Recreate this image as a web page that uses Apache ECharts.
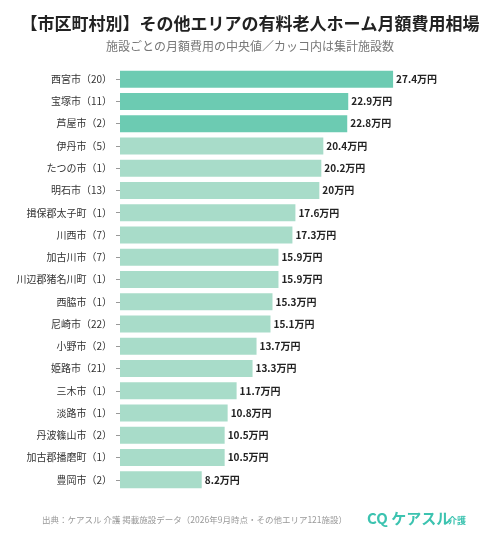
<!DOCTYPE html>
<html><head><meta charset="utf-8">
<script src="https://cdn.jsdelivr.net/npm/echarts@6/dist/echarts.min.js"></script>
<style>html,body{margin:0;background:#fff}#chart{width:500px;height:541px}</style>
</head><body><div id="chart"></div>
<script>
const cities = ['西宮市（20）','宝塚市（11）','芦屋市（2）','伊丹市（5）','たつの市（1）','明石市（13）','揖保郡太子町（1）','川西市（7）','加古川市（7）','川辺郡猪名川町（1）','西脇市（1）','尼崎市（22）','小野市（2）','姫路市（21）','三木市（1）','淡路市（1）','丹波篠山市（2）','加古郡播磨町（1）','豊岡市（2）'];
const values = [27.4,22.9,22.8,20.4,20.2,20,17.6,17.3,15.9,15.9,15.3,15.1,13.7,13.3,11.7,10.8,10.5,10.5,8.2];
const font = '"Noto Sans CJK JP", sans-serif';

const chart = echarts.init(document.getElementById('chart'));
chart.setOption({
  backgroundColor: '#fff',
  animation: false,
  title: [
    { text: '【市区町村別】その他エリアの有料老人ホーム月額費用相場', left: 'center', top: 10,
      textStyle: { fontFamily: font, fontSize: 17, fontWeight: 'bold', color: '#222' } },
    { text: '施設ごとの月額費用の中央値／カッコ内は集計施設数', left: 'center', top: 35,
      textStyle: { fontFamily: font, fontSize: 12, fontWeight: 'normal', color: '#777' } },
    { text: '出典：ケアスル 介護 掲載施設データ（2026年9月時点・その他エリア121施設）', left: 37, top: 511,
      textStyle: { fontFamily: font, fontSize: 8.5, fontWeight: 'normal', color: '#999' } },
    { text: 'CQ ケアスル', left: 362, top: 506,
      textStyle: { fontFamily: font, fontSize: 15, fontWeight: 'bold', color: '#3cc3b0' } },
    { text: '介護', left: 443, top: 511,
      textStyle: { fontFamily: font, fontSize: 9, fontWeight: 'bold', color: '#3cc3b0' } }
  ],
  grid: { left: 120, right: 81, top: 68, bottom: 50 },
  xAxis: { type: 'value', min: 0, max: 30, show: false },
  yAxis: {
    type: 'category', inverse: true, data: cities,
    axisLine: { show: false },
    axisTick: { show: true, length: 4, alignWithLabel: true, lineStyle: { color: '#999' } },
    axisLabel: { fontFamily: font, fontSize: 10, color: '#333', margin: 8 }
  },
  series: [{
    type: 'bar', data: values.map((v, i) => ({
      value: v, itemStyle: { color: i < 3 ? '#6ccbb2' : '#a8dcc9' }
    })),
    barWidth: 17,
    label: { show: true, position: 'right', distance: 3, formatter: p => p.value + '万円',
      fontFamily: font, fontSize: 10, fontWeight: 'bold', color: '#222' }
  }]
});
</script></body></html>
